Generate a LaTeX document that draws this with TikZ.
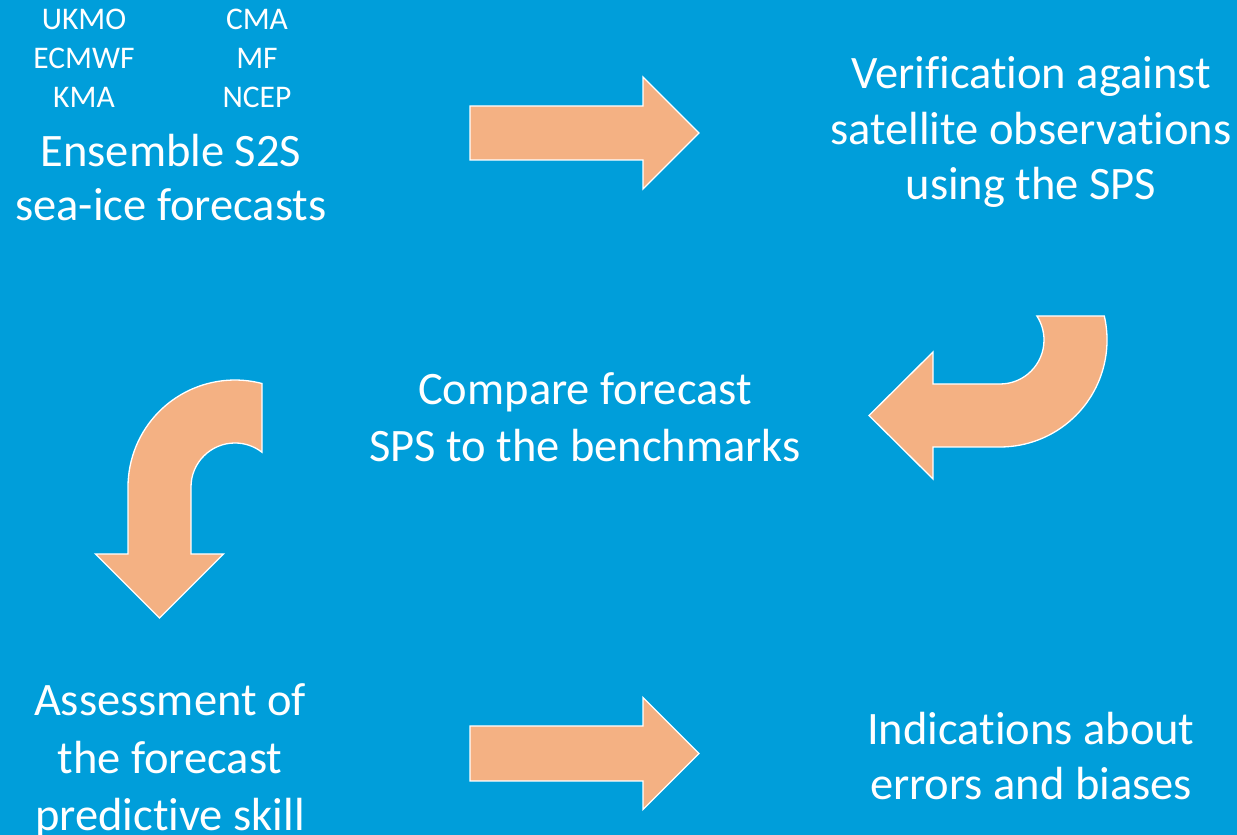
\documentclass[tikz,border=0pt]{standalone}
\usepackage{fontspec}
\setmainfont{Carlito}[Ligatures=NoCommon]
\definecolor{bgblue}{RGB}{0,158,218}
\definecolor{peach}{RGB}{244,177,131}
\begin{document}
\begin{tikzpicture}[x=1pt,y=1pt,
  blockarrow/.style={fill=peach,draw=white,line width=1.3pt,line join=miter},
  bigtext/.style={text=white,align=center,inner sep=0pt,anchor=base,font=\fontsize{46.5}{56.5}\selectfont},
  smalltext/.style={text=white,align=center,inner sep=0pt,anchor=base,font=\fontsize{31.5}{39}\selectfont}]
\fill[bgblue] (0,0) rectangle (1237,835);
\useasboundingbox (0,0) rectangle (1237,835);
% texts (anchored at the baseline of the last line)
\node[smalltext] (m1) at (84,727) {UKMO\\ECMWF\\KMA};
\node[smalltext] (m2) at (257,727) {CMA\\MF\\NCEP};
\node[bigtext,font=\fontsize{46.5}{54}\selectfont] (ens) at (171,614) {Ensemble S2S\\sea-ice forecasts};
\node[bigtext,font=\fontsize{46.5}{55.5}\selectfont] (ver) at (1031,635) {Verification against\\satellite observations\\using the SPS};
\node[bigtext,font=\fontsize{46.5}{57}\selectfont] (cmp) at (585,373) {Compare forecast\\SPS to the benchmarks};
\node[bigtext,font=\fontsize{46.5}{57.5}\selectfont] (ass) at (170,4) {Assessment of\\the forecast\\predictive skill};
\node[bigtext,font=\fontsize{46.5}{55}\selectfont] (ind) at (1031,35) {Indications about\\errors and biases};
% straight arrow top
\draw[blockarrow] (470,729) -- (643,729) -- (643,758) -- (699,702) -- (643,646) -- (643,675) -- (470,675) -- cycle;
% straight arrow bottom
\draw[blockarrow] (470,109) -- (643,109) -- (643,137.5) -- (699,81.5) -- (643,25.5) -- (643,54) -- (470,54) -- cycle;
% curved arrow right (pointing left)
\draw[blockarrow] (1104.3,519) arc[start angle=12.96,end angle=-90,radius=107]
  -- (933,388) -- (933,356) -- (869,419.5) -- (933,483) -- (933,451) -- (1000,451)
  arc[start angle=-90,end angle=33.06,radius=44] -- cycle;
% curved arrow left (pointing down)
\draw[blockarrow] (128,348) -- (128,281) -- (95.5,281) -- (159.5,217) -- (223.5,281) -- (191,281) -- (191,348)
  arc[start angle=180,end angle=52.14,radius=44] -- (262,451.5)
  arc[start angle=75.38,end angle=180,radius=107] -- cycle;
\end{tikzpicture}
\end{document}
